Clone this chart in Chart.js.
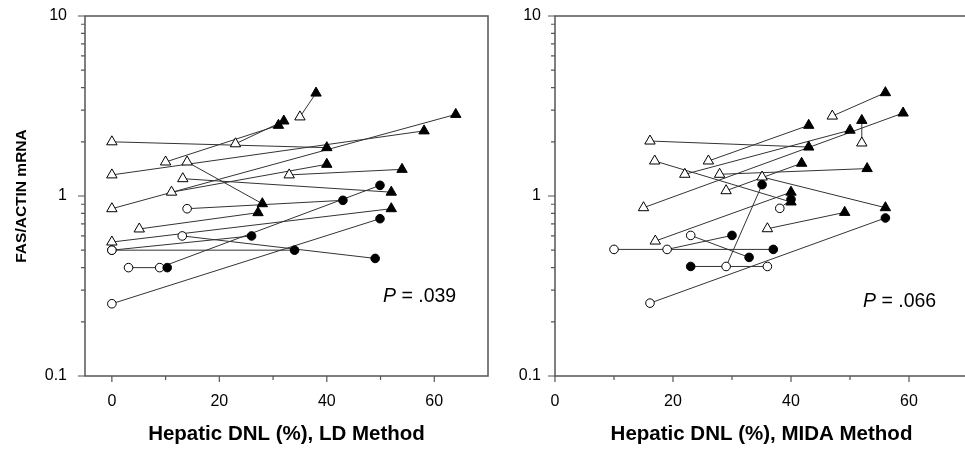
<!DOCTYPE html>
<html><head><meta charset="utf-8">
<script src="https://cdn.jsdelivr.net/npm/chart.js@4.4.1/dist/chart.umd.min.js"></script>
<style>
html,body{margin:0;padding:0;background:#fff;overflow:hidden;width:965px;height:449px;}
#wrap{position:relative;width:965px;height:449px;overflow:hidden;}
canvas{position:absolute;top:0;}
#c1{left:0;}
#c2{left:495px;}
.pval{position:absolute;font-family:"Liberation Sans",Arial,sans-serif;font-size:19.5px;color:#000;white-space:nowrap;}
</style></head>
<body><div id="wrap">
<canvas id="c1" width="495" height="449"></canvas>
<canvas id="c2" width="480" height="449"></canvas>
<div class="pval" style="left:383px;top:284px"><i>P</i> = .039</div>
<div class="pval" style="left:863px;top:289px"><i>P</i> = .066</div>
</div>
<script>
// ---- Data: LD method panel ----
const ldTriOpenX   = [0, 23, 0, 10, 14, 13.2, 33, 11.1, 0, 5.1, 0, 35];
const ldTriOpenY   = [2.0, 1.95, 1.31, 1.545, 1.545, 1.248, 1.31, 1.05, 0.85, 0.656, 0.555, 2.75];
const ldTriFilledX = [40, 32, 58.1, 31, 28, 52, 54, 40, 64, 27.2, 52, 38];
const ldTriFilledY = [1.856, 2.61, 2.30, 2.47, 0.906, 1.05, 1.406, 1.50, 2.84, 0.808, 0.85, 3.73];
const ldCircOpenX   = [14, 13.1, 0, 0, 3.1, 8.9, 0];
const ldCircOpenY   = [0.85, 0.60, 0.50, 0.50, 0.40, 0.40, 0.252];
const ldCircFilledX = [43, 49, 34, 26, 10.3, 49.9, 49.9];
const ldCircFilledY = [0.946, 0.45, 0.50, 0.60, 0.40, 1.146, 0.748];

// ---- Data: MIDA method panel ----
const midaTriOpenX   = [16.1, 52, 22, 26, 16.9, 35.1, 27.9, 29, 15, 36, 17, 47];
const midaTriOpenY   = [2.02, 1.97, 1.32, 1.565, 1.565, 1.275, 1.32, 1.07, 0.861, 0.658, 0.562, 2.78];
const midaTriFilledX = [43, 52, 50, 43, 40, 56, 52.9, 41.8, 59, 49.1, 40, 56];
const midaTriFilledY = [1.87, 2.63, 2.32, 2.47, 0.926, 0.861, 1.42, 1.52, 2.89, 0.811, 1.05, 3.75];
const midaCircOpenX   = [38.1, 23, 10, 19, 36, 29, 16.1];
const midaCircOpenY   = [0.854, 0.604, 0.505, 0.505, 0.406, 0.406, 0.254];
const midaCircFilledX = [40, 32.9, 37, 30, 23, 35.1, 56];
const midaCircFilledY = [0.958, 0.456, 0.505, 0.604, 0.406, 1.156, 0.755];

// ---- Tick values ----
const xTickValues = [0, 10, 20, 30, 40, 50, 60];
const xLabelValues = [0, 20, 40, 60];
const yTickValues = [0.1,0.2,0.3,0.4,0.5,0.6,0.7,0.8,0.9,1,2,3,4,5,6,7,8,9,10];
const yLabelValues = [0.1, 1, 10];
const yLabelText = ['0.1', '1', '10'];

const FONT = '"Liberation Sans", Arial, sans-serif';
const axisColor = '#555';
const lineColor = '#333';

function pts(xs, ys){ return xs.map((x,i)=>({x:x, y:ys[i]})); }

function buildDatasets(triOX, triOY, triFX, triFY, cOX, cOY, cFX, cFY){
  const ds = [];
  const addPairs = (oX,oY,fX,fY) => {
    for (let i=0;i<oX.length;i++){
      ds.push({data:[{x:oX[i],y:oY[i]},{x:fX[i],y:fY[i]}], showLine:true, borderColor:lineColor,
        borderWidth:1, pointRadius:0, order:3});
    }
  };
  addPairs(triOX,triOY,triFX,triFY);
  addPairs(cOX,cOY,cFX,cFY);
  ds.push({data:pts(triOX,triOY), pointStyle:'triangle', pointRadius:6, backgroundColor:'#fff', borderColor:'#000', borderWidth:1, showLine:false, order:1});
  ds.push({data:pts(cOX,cOY), pointStyle:'circle', pointRadius:4.3, backgroundColor:'#fff', borderColor:'#000', borderWidth:1, showLine:false, order:1});
  ds.push({data:pts(triFX,triFY), pointStyle:'triangle', pointRadius:6, backgroundColor:'#000', borderColor:'#000', borderWidth:1, showLine:false, order:0});
  ds.push({data:pts(cFX,cFY), pointStyle:'circle', pointRadius:4.3, backgroundColor:'#000', borderColor:'#000', borderWidth:1, showLine:false, order:0});
  return ds;
}

const framePlugin = {
  id:'frame',
  beforeDatasetsDraw(chart){
    const {ctx, chartArea:a, scales:{x,y}} = chart;
    ctx.save();
    ctx.strokeStyle = axisColor; ctx.lineWidth = 1.5;
    ctx.strokeRect(a.left, a.top, a.right-a.left, a.bottom-a.top);
    ctx.lineWidth = 1.2;
    ctx.beginPath();
    x.ticks.forEach(t=>{
      const px = x.getPixelForValue(t.value);
      const len = xLabelValues.includes(t.value) ? 6 : 4;
      ctx.moveTo(px, a.bottom); ctx.lineTo(px, a.bottom+len);
    });
    y.ticks.forEach(t=>{
      const py = y.getPixelForValue(t.value);
      const len = yLabelValues.includes(t.value) ? 7 : 4;
      ctx.moveTo(a.left-len, py); ctx.lineTo(a.left, py);
    });
    ctx.stroke();
    ctx.restore();
  }
};

function makeChart(id, cfg){
  return new Chart(document.getElementById(id), {
    type:'scatter',
    data:{datasets: cfg.datasets},
    plugins:[framePlugin],
    options:{
      responsive:false, animation:false, events:[],
      layout:{padding:{top:16, right:cfg.padRight, left:0, bottom:0}},
      plugins:{legend:{display:false}, tooltip:{enabled:false}},
      scales:{
        x:{type:'linear', min:cfg.xMin, max:70,
          afterBuildTicks:s=>{ s.ticks = xTickValues.map(v=>({value:v})); },
          afterFit:s=>{ s.height = 73; s.paddingLeft = 0; s.paddingRight = 0; },
          grid:{display:false, drawTicks:false}, border:{display:false},
          ticks:{autoSkip:false, maxRotation:0, padding:16, color:'#000', font:{family:FONT, size:16},
            callback:v=> xLabelValues.includes(v) ? String(v) : ''},
          title:{display:true, text:cfg.xTitle, color:'#000', font:{family:FONT, size:20.5, weight:'bold'}, padding:{top:0,bottom:2}}
        },
        y:{type:'logarithmic', min:0.1, max:10,
          afterBuildTicks:s=>{ s.ticks = yTickValues.map(v=>({value:v})); },
          afterFit:s=>{ s.width = cfg.yWidth; s.paddingTop = 0; s.paddingBottom = 0; },
          grid:{display:false, drawTicks:false}, border:{display:false},
          ticks:{autoSkip:false, padding:cfg.yPad, color:'#000', font:{family:FONT, size:16},
            callback:v=>{ const k = yLabelValues.indexOf(v); return k>=0 ? yLabelText[k] : ''; }},
          title:{display:cfg.yTitle!=='', text:cfg.yTitle, color:'#000', font:{family:FONT, size:15.5, weight:'bold'}, padding:{top:12.7,bottom:0}}
        }
      }
    }
  });
}

makeChart('c1', {
  datasets: buildDatasets(ldTriOpenX, ldTriOpenY, ldTriFilledX, ldTriFilledY, ldCircOpenX, ldCircOpenY, ldCircFilledX, ldCircFilledY),
  xMin:-5, padRight:4.3, yWidth:85, yPad:18, xTitle:'Hepatic DNL (%), LD Method', yTitle:'FAS/ACTIN mRNA'
});
makeChart('c2', {
  datasets: buildDatasets(midaTriOpenX, midaTriOpenY, midaTriFilledX, midaTriFilledY, midaCircOpenX, midaCircOpenY, midaCircFilledX, midaCircFilledY),
  xMin:0, padRight:4, yWidth:60, yPad:14, xTitle:'Hepatic DNL (%), MIDA Method', yTitle:''
});
</script>
</body></html>
